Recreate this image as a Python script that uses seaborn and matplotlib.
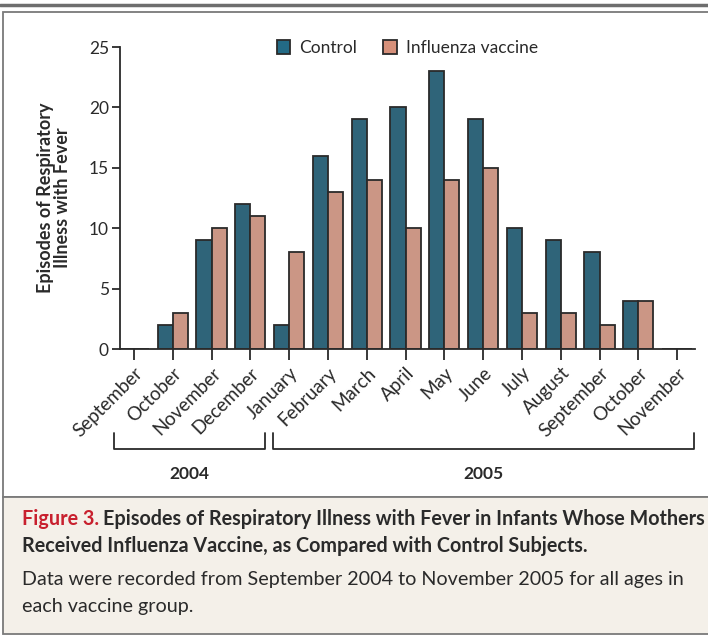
import numpy as np
import pandas as pd
import seaborn as sns
import matplotlib.pyplot as plt
import matplotlib.patches as mpatches
from matplotlib.lines import Line2D

# data
months = ['September', 'October', 'November', 'December', 'January', 'February', 'March',
          'April', 'May', 'June', 'July', 'August', 'September', 'October', 'November']
control = [0, 2, 9, 12, 2, 16, 19, 20, 23, 19, 10, 9, 8, 4, 0]
vaccine = [0, 3, 10, 11, 8, 13, 14, 10, 14, 15, 3, 3, 2, 4, 0]
groups = ['Control', 'Influenza vaccine']
years = ['2004', '2005']

df = pd.DataFrame({
    'idx': list(range(len(months))) * 2,
    'episodes': control + vaccine,
    'group': [groups[0]] * len(months) + [groups[1]] * len(months),
})

sns.set_style('white')
plt.rcParams['font.family'] = ['Lato', 'DejaVu Sans']
dark = '#2a2a2a'
colors = ['#236a85', '#d6907a']

fig = plt.figure(figsize=(7.08, 6.37), dpi=100)

# outer frame, caption panel
fig.add_artist(Line2D([0, 1], [1 - 5 / 637, 1 - 5 / 637], color='#6e6e6e', lw=2.5, zorder=-2))
fig.add_artist(mpatches.Rectangle((3 / 708, 1 - 497 / 637), 1.2, 485 / 637,
                                  facecolor='white', edgecolor='#7a7a7a', lw=1.3, zorder=-2))
fig.add_artist(mpatches.Rectangle((3 / 708, 3 / 637), 1.2, 1 - 497 / 637 - 3 / 637,
                                  facecolor='#f4f0e9', edgecolor='#7a7a7a', lw=1.3, zorder=-2))

ax = fig.add_axes([120 / 708, 1 - 349 / 637, 575 / 708, 302 / 637])
sns.barplot(data=df, x='idx', y='episodes', hue='group', palette=colors, width=0.78,
            edgecolor=dark, linewidth=1.3, ax=ax, legend=False)
ax.set_ylim(0, 25)
ax.set_xlim(-0.36, 14.46)
ax.set_yticks([0, 5, 10, 15, 20, 25])
ax.set_xticks(range(len(months)))
ax.set_xticklabels(months, rotation=45, ha='right', rotation_mode='anchor', fontsize=13.5, color=dark)
ax.tick_params(axis='y', labelsize=12.5, labelcolor=dark, length=6, width=1.3, color=dark, left=True, pad=2)
ax.tick_params(axis='x', length=8, width=1.3, color=dark, bottom=True, pad=3)
ax.set_xlabel('')
ax.set_ylabel('Episodes of Respiratory\nIllness with Fever', fontsize=13, fontweight='bold',
              color=dark, labelpad=13, linespacing=1.0)
sns.despine(ax=ax)
for s in ['left', 'bottom']:
    ax.spines[s].set_color(dark)
    ax.spines[s].set_linewidth(1.3)
ax.patch.set_alpha(0)

# year brackets
tr = ax.get_xaxis_transform()
for (x0, x1, xt), yr in zip([(-0.52, 3.38, 1.44), (3.58, 14.43, 9.0)], years):
    ax.plot([x0, x0, x1, x1], [-0.278, -0.331, -0.331, -0.278], transform=tr, color=dark,
            lw=1.3, clip_on=False)
    ax.text(xt, -0.415, yr, transform=tr, ha='center', va='center', fontsize=12.5,
            fontweight='bold', color=dark)

handles = [mpatches.Patch(facecolor=c, edgecolor=dark, lw=1.3) for c in colors]
ax.legend(handles, groups, loc='upper left', bbox_to_anchor=(0.245, 1.075), ncol=2, frameon=False,
          fontsize=12.5, handlelength=0.8, handleheight=0.8, handletextpad=0.5, columnspacing=1.5,
          labelcolor=dark)

# caption
fig.canvas.draw()
r = fig.canvas.get_renderer()
cap = 14.2
t1 = fig.text(22 / 708, 1 - 525 / 637, 'Figure 3.', color='#c8202e', fontsize=cap,
              fontweight='bold', va='baseline')
bb = t1.get_window_extent(r)
fig.text((bb.x1 + 4) / 708, 1 - 525 / 637,
         'Episodes of Respiratory Illness with Fever in Infants Whose Mothers',
         color=dark, fontsize=cap, fontweight='bold', va='baseline')
fig.text(22 / 708, 1 - 552 / 637, 'Received Influenza Vaccine, as Compared with Control Subjects.',
         color=dark, fontsize=cap, fontweight='bold', va='baseline')
fig.text(22 / 708, 1 - 585 / 637,
         'Data were recorded from September 2004 to November 2005 for all ages in',
         color=dark, fontsize=cap, va='baseline')
fig.text(22 / 708, 1 - 612 / 637, 'each vaccine group.', color=dark, fontsize=cap, va='baseline')

fig.savefig('out.png', dpi=100)
